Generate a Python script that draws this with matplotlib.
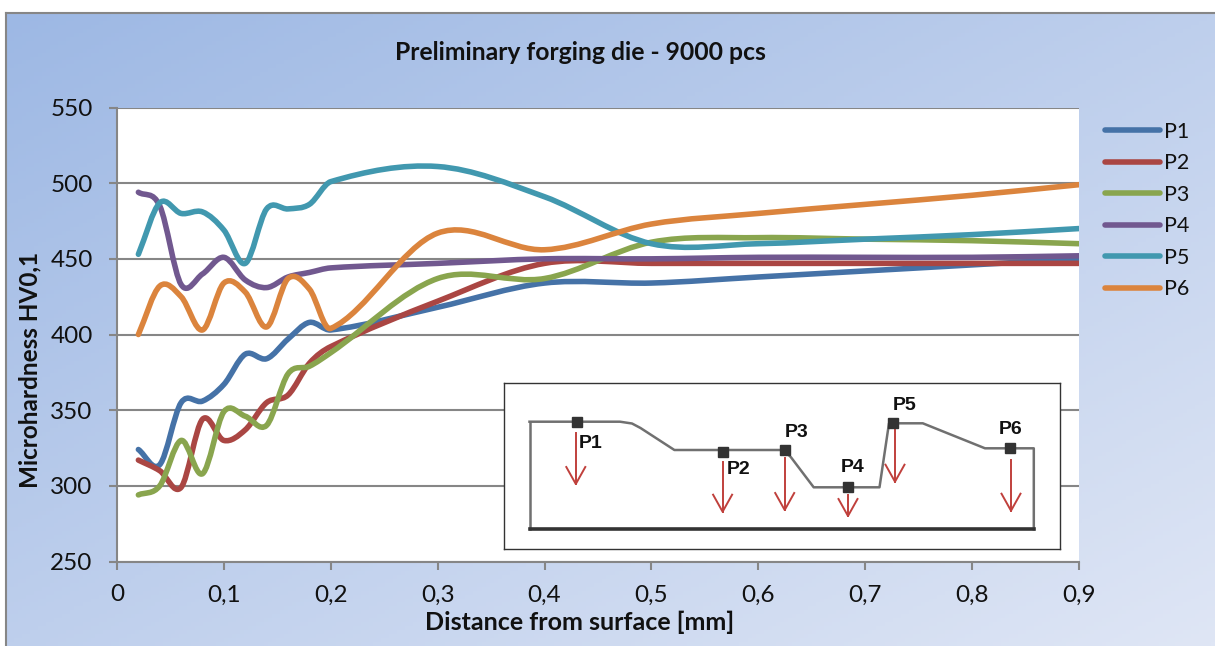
import numpy as np
import matplotlib
matplotlib.use('Agg')
import matplotlib.pyplot as plt
from matplotlib.path import Path
from matplotlib.patches import PathPatch
from matplotlib.lines import Line2D

plt.rcParams['font.family'] = ['Lato', 'DejaVu Sans']

distance = [0.02, 0.04, 0.06, 0.08, 0.10, 0.12, 0.14, 0.16, 0.18, 0.20,
            0.30, 0.40, 0.50, 0.60, 0.70, 0.80, 0.90]

p1 = [324, 314, 355, 356, 367, 387, 384, 397, 408, 403, 418, 434, 434, 438, 442, 446, 450]
p2 = [317, 310, 299, 344, 330, 337, 355, 360, 381, 392, 422, 447, 447, 447, 447, 447, 447]
p3 = [294, 300, 330, 308, 349, 346, 340, 374, 379, 388, 437, 437, 461, 464, 463, 462, 460]
p4 = [494, 485, 433, 440, 451, 436, 431, 438, 441, 444, 447, 450, 450, 451, 451, 451, 452]
p5 = [453, 487, 480, 481, 469, 447, 483, 483, 486, 501, 511, 491, 460, 460, 463, 466, 470]
p6 = [400, 432, 425, 403, 434, 428, 405, 437, 430, 404, 467, 456, 473, 480, 486, 492, 499]

series = ['P1', 'P2', 'P3', 'P4', 'P5', 'P6']
values = [p1, p2, p3, p4, p5, p6]
colors = ['#4572A7', '#AA4643', '#89A54E', '#71588F', '#4198AF', '#DB843D']

x_ticks = [0, 0.1, 0.2, 0.3, 0.4, 0.5, 0.6, 0.7, 0.8, 0.9]
x_labels = ['0', '0,1', '0,2', '0,3', '0,4', '0,5', '0,6', '0,7', '0,8', '0,9']
y_ticks = [250, 300, 350, 400, 450, 500, 550]

# schematic of the die in the inset, in picture pixels
die_outline = [(529.5, 421.7), (620, 421.7), (632, 423.5), (640.5, 428), (674.4, 450), (783.6, 450),
               (791, 457.3), (813.7, 487.3), (879.5, 487.3), (889, 423.3), (922.8, 423.3),
               (985, 448.3), (1033.8, 448.3), (1033.8, 529.3)]
die_base = [(529.5, 421.7), (529.5, 529.3), (1033.8, 529.3)]
die_squares = [(576.6, 421.7), (723.3, 451.7), (785.4, 450), (847.5, 487.3), (892.7, 423.3), (1010, 447.7)]
die_labels = [(590.5, 443), (738.4, 469), (796.7, 432.7), (853, 467.7), (904.8, 405), (1010.5, 430)]
die_arrows = [(575.8, 433, 484), (722.6, 461.7, 511.7), (784.7, 458, 510),
              (848, 495, 516), (895, 430, 481.7), (1011, 460, 510.7)]

W, H = 1215, 646
GRAY = '#868686'


def smooth_path(xs, ys):
    # one bezier per segment, tangents scaled to the segment width
    pts = np.column_stack([xs, ys]).astype(float)
    n = len(pts)
    verts = [pts[0]]
    codes = [Path.MOVETO]
    for i in range(n - 1):
        a, b = pts[max(i - 1, 0)], pts[i + 1]
        c, d = pts[i], pts[min(i + 2, n - 1)]
        width = pts[i + 1, 0] - pts[i, 0]
        verts.append(pts[i] + (b - a) * width / (b[0] - a[0]) / 3)
        verts.append(pts[i + 1] - (d - c) * width / (d[0] - c[0]) / 3)
        verts.append(pts[i + 1])
        codes += [Path.CURVE4] * 3
    return Path(verts, codes)


def box(left, top, right, bottom):
    return [left / W, 1 - bottom / H, (right - left) / W, (bottom - top) / H]


fig = plt.figure(figsize=(12.15, 6.46), dpi=100, facecolor='white')

# gradient panel behind the chart
bg = fig.add_axes(box(6, 13, W, H))
gx, gy = np.meshgrid(np.linspace(0, 1, 300), np.linspace(0, 1, 160))
t = ((gx + gy) / 2)[..., None]
start = np.array(matplotlib.colors.to_rgb('#9DB8E4'))
end = np.array(matplotlib.colors.to_rgb('#DFE6F5'))
bg.imshow(start + (end - start) * t, aspect='auto', origin='upper')
bg.set_xticks([])
bg.set_yticks([])
for side in ['right', 'bottom']:
    bg.spines[side].set_visible(False)
for side in ['left', 'top']:
    bg.spines[side].set_color(GRAY)
    bg.spines[side].set_linewidth(1.5)

ax = fig.add_axes(box(117, 107.5, 1079, 561.5))
ax.set_facecolor('white')
ax.set_xlim(0, 0.9)
ax.set_ylim(250, 550)
ax.set_xticks(x_ticks)
ax.set_xticklabels(x_labels)
ax.set_yticks(y_ticks)
ax.tick_params(axis='both', length=5.5, width=1.5, color=GRAY, labelsize=17.5, labelcolor='#111111')
ax.tick_params(axis='x', pad=11)
ax.tick_params(axis='y', pad=12)
ax.grid(axis='y', color=GRAY, linewidth=1.5)
ax.set_axisbelow(True)
for side in ['top', 'right']:
    ax.spines[side].set_visible(False)
for side in ['left', 'bottom']:
    ax.spines[side].set_color(GRAY)
    ax.spines[side].set_linewidth(1.5)

for vals, c in zip(values, colors):
    patch = PathPatch(smooth_path(distance, vals), facecolor='none', edgecolor=c,
                      linewidth=4, capstyle='round', joinstyle='round', zorder=3)
    ax.add_patch(patch)

fig.text(580 / W, 1 - 53 / H, 'Preliminary forging die - 9000 pcs', ha='center', va='center',
         fontsize=17.8, fontweight='bold', color='#111111')
fig.text(580 / W, 1 - 622 / H, 'Distance from surface [mm]', ha='center', va='center',
         fontsize=18, fontweight='bold', color='#111111')
fig.text(30 / W, 1 - 370 / H, 'Microhardness HV0,1', ha='center', va='center', rotation=90,
         fontsize=17.5, fontweight='bold', color='#111111')

handles = [Line2D([], [], color=c, linewidth=4, solid_capstyle='round') for c in colors]
fig.legend(handles, series, loc='upper left', bbox_to_anchor=(1105 / W, 1 - 122 / H),
           frameon=False, fontsize=15.5, handlelength=2.55, handletextpad=0.2,
           labelspacing=0.53, borderpad=0, borderaxespad=0, labelcolor='#111111')

# inset with the die section
inset = fig.add_axes(box(504, 383, 1060, 549), zorder=5)
inset.set_xlim(504, 1060)
inset.set_ylim(549, 383)
inset.set_xticks([])
inset.set_yticks([])
for spine in inset.spines.values():
    spine.set_color('#333333')
    spine.set_linewidth(1)

inset.plot(*zip(*die_outline), color='#707070', linewidth=1.8)
inset.plot(*zip(*die_base[:2]), color='#707070', linewidth=1.8)
inset.plot(*zip(*die_base[1:]), color='#333333', linewidth=2.6)
inset.plot(*zip(*die_squares), linestyle='none', marker='s', markersize=7, color='#333333', zorder=4)
for (lx, ly), name in zip(die_labels, series):
    inset.text(lx, ly, name, ha='center', va='center', fontsize=14, fontweight='bold',
               family=['Liberation Sans', 'DejaVu Sans'], color='#111111')
for ax_x, y0, y1 in die_arrows:
    inset.plot([ax_x, ax_x], [y0, y1], color='#C0403C', linewidth=1.4)
    inset.plot([ax_x - 9.5, ax_x, ax_x + 9.5], [y1 - 17, y1, y1 - 17], color='#C0403C', linewidth=1.4)

fig.savefig('out.png', dpi=100)
